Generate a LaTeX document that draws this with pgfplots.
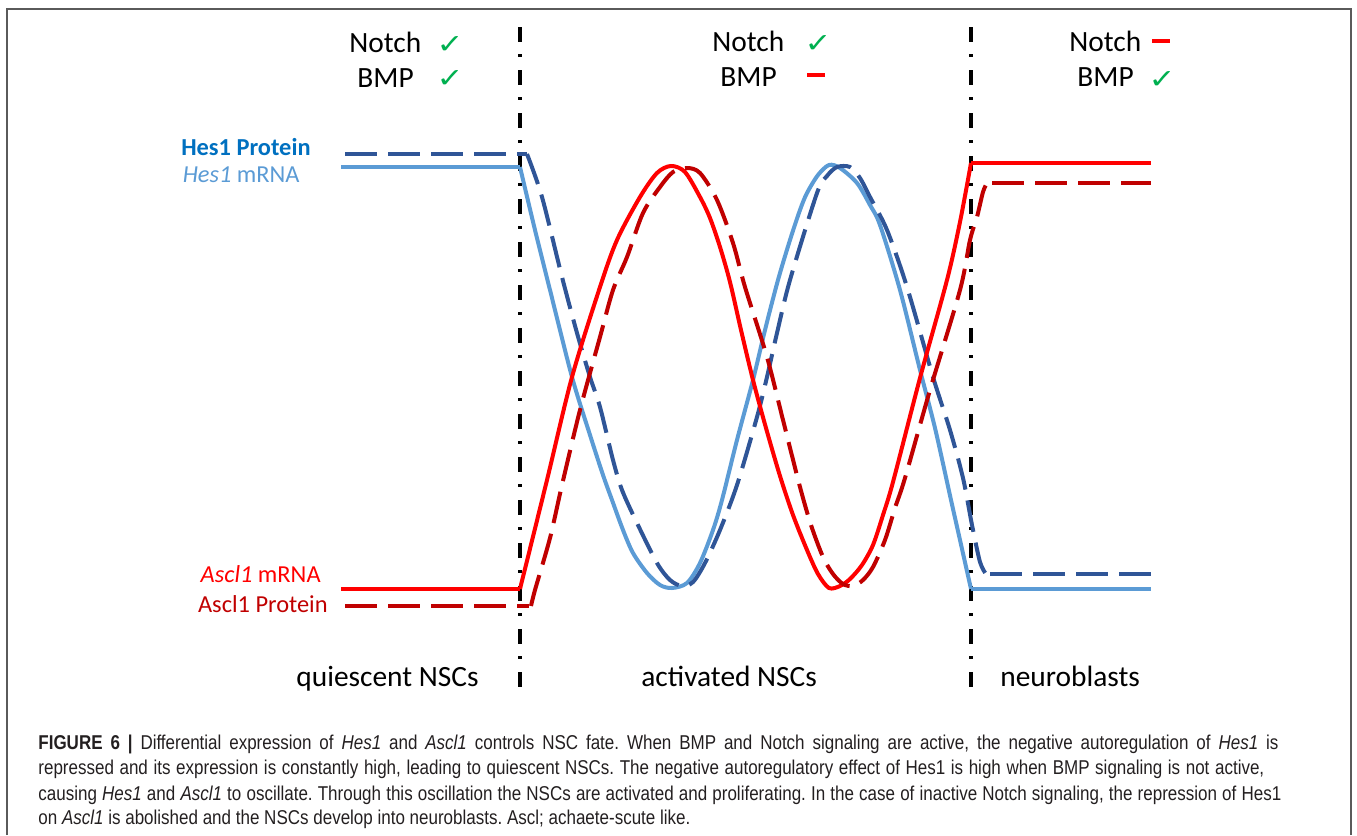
\documentclass[border=0pt]{standalone}
\usepackage{pgfplots}
\pgfplotsset{compat=1.18}
\usepackage{fontspec}
\setmainfont{Carlito}
\newfontfamily\capfont{Liberation Sans}[FakeStretch=0.85]
\newfontfamily\symfont{DejaVu Sans}
\definecolor{lblue}{HTML}{5B9BD5}
\definecolor{dblue}{HTML}{2F5597}
\definecolor{hblue}{HTML}{0070C0}
\definecolor{dred}{HTML}{C00000}
\definecolor{cgreen}{HTML}{00B050}
\definecolor{framec}{HTML}{5A5A5A}
\definecolor{capc}{HTML}{231F20}
\newcommand\chk{\textcolor{cgreen}{\resizebox{13.5pt}{8.5pt}{\symfont ✓}}}
\newcommand\nodash{\textcolor{red}{\rule{9pt}{2pt}}}
\begin{document}
\frenchspacing
\begin{tikzpicture}
\begin{axis}[scale only axis, width=678.5pt, height=417.5pt,
  xmin=0, xmax=1357, ymin=0, ymax=835, y dir=reverse,
  hide axis, clip=false]
\path (0,0) rectangle (1357,835);
\draw[framec, line width=1pt] (7,835) -- (7,9) -- (1351,9) -- (1351,835);

% stage separators
\addplot[black, line width=2pt, dash pattern=on 7.5pt off 6pt on 1.5pt off 6.5pt] coordinates {(520,27) (520,695)};
\addplot[black, line width=2pt, dash pattern=on 7.5pt off 6pt on 1.5pt off 6.5pt] coordinates {(971,27) (971,695)};

% Hes1 mRNA
\addplot[lblue, line width=2pt] coordinates {(341,167) (520,167)};
\addplot[lblue, line width=2pt, smooth, tension=0.5] coordinates {
(520,167) (535,230) (550,290) (572,377) (590,435) (603,475) (612,500)
(623,530) (633,553) (647,573) (660,585) (672,588) (687,583) (700,563) (713,530)
(722,500) (737,440) (753,380) (765,330) (778,280) (790,240) (800,210) (807,193)
(818,175) (829,165) (840,168) (857,183) (870,205) (880,225) (900,290) (920,370)
(935,428) (951,500) (960,540) (971,589)};
\addplot[lblue, line width=2pt] coordinates {(971,589) (1151,589)};

% Hes1 Protein
\addplot[dblue, line width=2pt, dash pattern=on 16pt off 5.5pt] coordinates {(345,154) (527,154)};
\addplot[dblue, line width=2pt, smooth, tension=0.5, dash pattern=on 16pt off 5.5pt] coordinates {
(527,154) (542,197) (562,277) (577,333) (590,377) (600,407) (613,460)
(622,490) (637,523) (657,563) (670,580) (682,586) (693,582) (705,563) (720,530)
(737,485) (757,417) (767,377) (777,333) (790,280) (817,193) (827,176) (837,167)
(850,167) (860,178) (870,197) (887,230) (907,287) (933,377) (950,430) (963,478)
(972,525) (980,562) (986,574)};
\addplot[dblue, line width=2pt, dash pattern=on 16pt off 5.5pt] coordinates {(990,574) (1151,574)};

% Ascl1 mRNA
\addplot[red, line width=2pt] coordinates {(341,589) (520,589)};
\addplot[red, line width=2pt, smooth, tension=0.5] coordinates {
(520,589) (547,480) (572,377) (600,287) (617,240) (640,197) (657,173)
(671,166) (685,172) (700,197) (710,218) (720,247) (730,282) (741,330) (753,380)
(766,428) (780,476) (793,515) (807,550) (818,574) (829,588) (840,586) (850,579)
(862,565) (873,545) (883,515) (893,482) (920,378) (947,280) (960,222) (971,163)};
\addplot[red, line width=2pt] coordinates {(971,163) (1151,163)};

% Ascl1 Protein
\addplot[dred, line width=2pt, dash pattern=on 16pt off 5.5pt] coordinates {(345,606) (529,606)};
\addplot[dred, line width=2pt, smooth, tension=0.5, dash pattern=on 16pt off 5.5pt] coordinates {
(531,606) (535,590) (550,538) (562,485) (580,410) (600,337) (613,290)
(627,257) (643,213) (660,187) (673,172) (687,168) (700,173) (717,200) (733,243)
(745,287) (767,357) (783,420) (800,487) (811,525) (823,557) (833,574) (843,584)
(853,586) (863,580) (873,567) (885,540) (895,508) (905,478) (930,390) (960,290)
(970,240) (977,217) (983,192) (987,183)};
\addplot[dred, line width=2pt, dash pattern=on 16pt off 5.5pt] coordinates {(992,183) (1151,183)};

% signalling labels
\tikzset{bigtxt/.style={inner sep=0, font=\fontsize{14.7pt}{16pt}\selectfont}}
\tikzset{chktxt/.style={inner sep=0, anchor=base}}
\node[bigtxt, anchor=base west] at (349,52) {Notch};
\node[bigtxt, anchor=base west] at (357,87) {BMP};
\node[chktxt] at (450,53) {\chk};
\node[chktxt] at (450,87) {\chk};
\node[bigtxt, anchor=base west] at (712,51) {Notch};
\node[bigtxt, anchor=base west] at (720,86) {BMP};
\node[chktxt] at (818,52) {\chk};
\node[inner sep=0] at (816,75) {\nodash};
\node[bigtxt, anchor=base west] at (1069,51) {Notch};
\node[bigtxt, anchor=base west] at (1077,86) {BMP};
\node[inner sep=0] at (1161,41) {\nodash};
\node[chktxt] at (1162,88) {\chk};

% stage labels
\node[bigtxt, anchor=base west] at (296,686) {quiescent NSCs};
\node[bigtxt, anchor=base west] at (641,686) {activated NSCs};
\node[bigtxt, anchor=base west] at (1000,686) {neuroblasts};

% series labels
\tikzset{labtxt/.style={inner sep=0, anchor=base east, font=\fontsize{12.2pt}{14pt}\selectfont}}
\node[labtxt, text=hblue, font=\fontsize{12.2pt}{14pt}\selectfont\bfseries] at (311,155) {Hes1 Protein};
\node[labtxt, text=lblue] at (300,182) {\textit{Hes1} mRNA};
\node[labtxt, text=red] at (321,582) {\textit{Ascl1} mRNA};
\node[labtxt, text=dred] at (328,612) {Ascl1 Protein};

% caption
\tikzset{captxt/.style={inner sep=0, anchor=base west, text=capc, font=\capfont\fontsize{10pt}{12pt}\selectfont}}
\node[captxt] at (38,749) {\makebox[620pt][s]{\textbf{FIGURE 6 |} Differential expression of \textit{Hes1} and \textit{Ascl1} controls NSC fate. When BMP and Notch signaling are active, the negative autoregulation of \textit{Hes1} is}};
\node[captxt] at (38,774) {\makebox[613pt][s]{repressed and its expression is constantly high, leading to quiescent NSCs. The negative autoregulatory effect of Hes1 is high when BMP signaling is not active,}};
\node[captxt] at (38,800) {\makebox[621.5pt][s]{causing \textit{Hes1} and \textit{Ascl1} to oscillate. Through this oscillation the NSCs are activated and proliferating. In the case of inactive Notch signaling, the repression of Hes1}};
\node[captxt] at (38,824) {on \textit{Ascl1} is abolished and the NSCs develop into neuroblasts. Ascl; achaete-scute like.};
\end{axis}
\end{tikzpicture}
\end{document}
